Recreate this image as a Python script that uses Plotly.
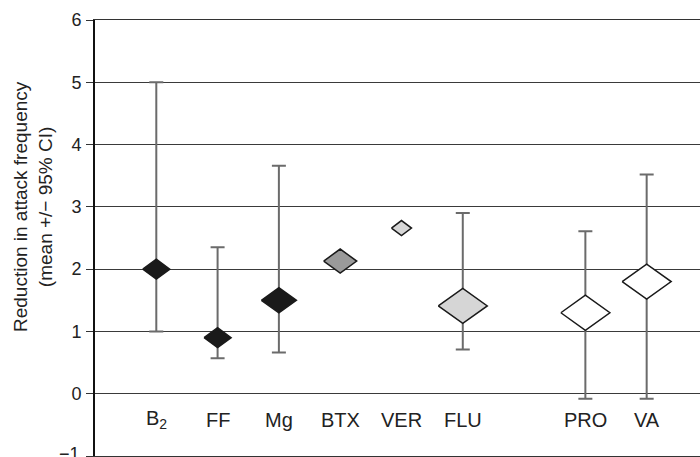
import plotly.graph_objects as go

# ---- data ----
labels = ["B<sub>2</sub>", "FF", "Mg", "BTX", "VER", "FLU", "PRO", "VA"]
slots = [1, 2, 3, 4, 5, 6, 8, 9]          # category slots (gap before PRO)
means = [2.0, 0.9, 1.5, 2.13, 2.66, 1.41, 1.30, 1.80]
ci_low = [1.0, 0.57, 0.66, None, None, 0.71, -0.08, -0.08]
ci_high = [5.0, 2.35, 3.66, None, None, 2.90, 2.61, 3.52]
y_ticks = [-1, 0, 1, 2, 3, 4, 5, 6]

# ---- styles ----
fills = ["#1a1a1a", "#1a1a1a", "#1a1a1a", "#9a9a9a", "#d6d6d6", "#d6d6d6", "#ffffff", "#ffffff"]
diam_w_px = [27, 27, 35, 33, 20, 49, 49, 49]
diam_h_px = [20, 20, 25, 24, 15, 35, 35, 35]

W, H = 700, 457
ML, MR, MT, MB = 95, 0, 20, 1
XR = [0, 9.87]
YR = [-1, 6]
px_x = (W - ML - MR) / (XR[1] - XR[0])
px_y = (H - MT - MB) / (YR[1] - YR[0])
PW = W - ML - MR

fig = go.Figure()

# error bars
ex, ey, eup, edn = [], [], [], []
for s, m, lo, hi in zip(slots, means, ci_low, ci_high):
    if lo is None:
        continue
    ex.append(s); ey.append(m); eup.append(hi - m); edn.append(m - lo)
fig.add_trace(go.Scatter(
    x=ex, y=ey, mode="markers",
    marker=dict(size=1, color="rgba(0,0,0,0)"),
    error_y=dict(type="data", symmetric=False, array=eup, arrayminus=edn,
                 color="#6b6b6b", thickness=2, width=7),
    showlegend=False, hoverinfo="skip"))

# diamonds
for s, m, f, wp, hp in zip(slots, means, fills, diam_w_px, diam_h_px):
    hw = wp / 2 / px_x
    hh = hp / 2 / px_y
    fig.add_trace(go.Scatter(
        x=[s - hw, s, s + hw, s, s - hw],
        y=[m, m + hh, m, m - hh, m],
        mode="lines", fill="toself", fillcolor=f,
        line=dict(color="#1a1a1a", width=1.5),
        showlegend=False, hoverinfo="skip"))

# category labels inside the plot, between 0 and -1
for s, lab in zip(slots, labels):
    fig.add_annotation(x=s, y=-0.42, xref="x", yref="y", text=lab,
                       showarrow=False, font=dict(size=20, color="#222"))

# bottom tick label (-1) sits at the page edge
fig.add_annotation(xref="paper", yref="y", x=(82 - ML) / PW, y=y_ticks[0],
                   xanchor="right", yanchor="middle", yshift=2,
                   text="−1", showarrow=False, font=dict(size=18, color="#222"))

fig.add_annotation(xref="paper", yref="paper", x=(33 - ML) / PW, y=0.571,
                   xanchor="center", yanchor="middle",
                   text="Reduction in attack frequency<br>(mean +/− 95% CI)",
                   textangle=-90, showarrow=False,
                   font=dict(size=19, color="#222"))

fig.update_layout(
    width=W, height=H,
    margin=dict(l=ML, r=MR, t=MT, b=MB),
    paper_bgcolor="white", plot_bgcolor="white",
    font=dict(family="Liberation Sans, Arial, sans-serif", color="#222"),
    xaxis=dict(range=XR, showgrid=False, zeroline=False, showticklabels=False,
               ticks="", showline=True, mirror=True, linecolor="#333", linewidth=1,
               fixedrange=True),
    yaxis=dict(range=YR, tickvals=y_ticks,
               ticktext=[""] + [str(v) for v in y_ticks[1:]],
               showgrid=True, gridcolor="#3a3a3a", gridwidth=1, zeroline=False,
               showline=True, linecolor="#111", linewidth=2,
               ticks="outside", ticklen=7, tickcolor="#333", tickwidth=1,
               tickfont=dict(size=18, color="#222"), ticklabelstandoff=1),
)

fig.write_html("out.html")
